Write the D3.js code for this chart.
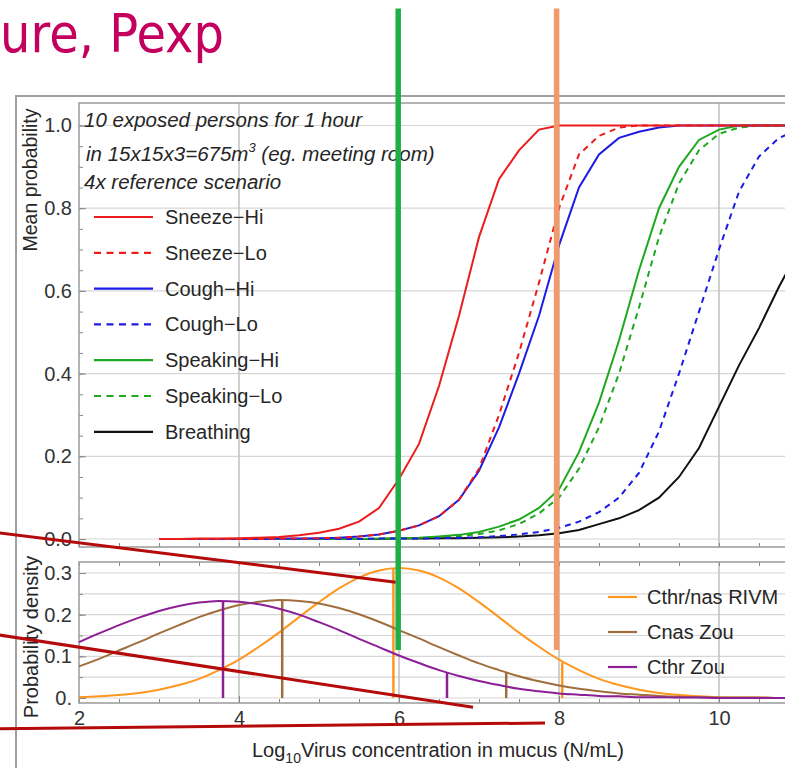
<!DOCTYPE html>
<html><head><meta charset="utf-8">
<script src="https://cdn.jsdelivr.net/npm/d3@7/dist/d3.min.js"></script>
<style>
body{margin:0;background:#fff}
svg{display:block}
text{font-family:"Liberation Sans",Arial,sans-serif;fill:#262626}
</style>
</head><body>
<svg id="c" width="785" height="768"></svg>
<script>
// ---------- DATA ----------
const probX = [3,3.25,3.5,3.75,4,4.25,4.5,4.75,5,5.25,5.5,5.75,6,6.25,6.5,6.75,7,7.25,7.5,7.75,8,8.25,8.5,8.75,9,9.25,9.5,9.75,10,10.25,10.5,10.75,11,11.25,11.5,11.75,12];
const sneezeHi  = [0,0,0.001,0.001,0.002,0.003,0.005,0.009,0.015,0.025,0.042,0.075,0.145,0.23,0.37,0.54,0.73,0.87,0.94,0.99,1,1,1,1,1,1,1,1,1,1,1,1,1,1,1,1,1];
const sneezeLo  = [0,0,0,0,0,0,0.001,0.001,0.002,0.003,0.006,0.011,0.02,0.033,0.055,0.095,0.17,0.30,0.45,0.62,0.80,0.93,0.975,0.995,1,1,1,1,1,1,1,1,1,1,1,1,1];
const coughHi   = [0,0,0,0,0,0,0.001,0.001,0.002,0.003,0.006,0.011,0.02,0.033,0.055,0.095,0.165,0.27,0.40,0.54,0.71,0.85,0.93,0.97,0.985,0.995,1,1,1,1,1,1,1,1,1,1,1];
const coughLo   = [0,0,0,0,0,0,0,0,0,0,0,0.001,0.001,0.001,0.002,0.003,0.004,0.007,0.011,0.017,0.027,0.042,0.065,0.10,0.16,0.26,0.40,0.55,0.70,0.84,0.925,0.97,0.99,0.997,1,1,1];
const speakHi   = [0,0,0,0,0,0,0,0,0,0,0,0.001,0.002,0.003,0.006,0.01,0.017,0.03,0.047,0.075,0.12,0.21,0.33,0.48,0.65,0.80,0.90,0.965,0.99,1,1,1,1,1,1,1,1];
const speakLo   = [0,0,0,0,0,0,0,0,0,0,0,0,0.001,0.002,0.004,0.007,0.012,0.021,0.036,0.062,0.10,0.17,0.27,0.40,0.56,0.73,0.86,0.94,0.98,0.995,1,1,1,1,1,1,1];
const breathing = [0,0,0,0,0,0,0,0,0,0,0,0,0.001,0.001,0.002,0.002,0.003,0.004,0.006,0.009,0.014,0.022,0.036,0.05,0.07,0.10,0.15,0.22,0.32,0.42,0.51,0.61,0.70,0.78,0.85,0.90,0.94];

const probNames  = ["Sneeze\u2212Hi","Sneeze\u2212Lo","Cough\u2212Hi","Cough\u2212Lo","Speaking\u2212Hi","Speaking\u2212Lo","Breathing"];
const probColors = ["#ec1c1c","#ec1c1c","#1c1ce6","#1c1ce6","#1fa81f","#1fa81f","#111111"];
const probDashed = [false,true,false,true,false,true,false];

const densX = [2,2.25,2.5,2.75,3,3.25,3.5,3.75,4,4.25,4.5,4.75,5,5.25,5.5,5.75,6,6.25,6.5,6.75,7,7.25,7.5,7.75,8,8.25,8.5,8.75,9,9.25,9.5,9.75,10,10.25,10.5,10.75,11,11.25,11.5,11.75,12];
const rivm   = [0.002,0.004,0.007,0.012,0.020,0.031,0.046,0.067,0.092,0.123,0.157,0.194,0.230,0.263,0.289,0.306,0.312,0.306,0.289,0.263,0.230,0.194,0.157,0.123,0.092,0.067,0.046,0.031,0.020,0.012,0.007,0.004,0.002,0.001,0.001,0,0,0,0,0,0];
const cnasZou= [0.076,0.094,0.114,0.134,0.155,0.175,0.194,0.210,0.223,0.231,0.235,0.233,0.227,0.216,0.201,0.183,0.163,0.143,0.122,0.102,0.083,0.067,0.052,0.040,0.030,0.022,0.016,0.011,0.008,0.005,0.003,0.002,0.001,0.001,0.001,0,0,0,0,0,0];
const cthrZou= [0.134,0.155,0.175,0.193,0.209,0.221,0.229,0.233,0.231,0.225,0.214,0.200,0.182,0.163,0.142,0.122,0.102,0.084,0.067,0.053,0.041,0.031,0.022,0.016,0.011,0.008,0.005,0.004,0.002,0.002,0.001,0.001,0,0,0,0,0,0,0,0,0];
const densNames  = ["Cthr/nas RIVM","Cnas Zou","Cthr Zou"];
const densColors = ["#ff961e","#a06e3c","#8c1e96"];
// quantile markers (x, height) per density series
const markX = [[5.93,8.04],[4.54,7.34],[3.8,6.6]];
const markH = [[0.31,0.085],[0.235,0.06],[0.233,0.062]];

const xTicks = [2,4,6,8,10];
const probTicks = [0,0.2,0.4,0.6,0.8,1.0];
const densTicks = [0,0.1,0.2,0.3];
const noteLines = ["10 exposed persons for 1 hour"," in 15x15x3=675m","4x reference scenario"];

// overlay annotations in data units (x, lower-density scale)
const greenBar  = {x:5.99, y0:1.655, y1:0.115};
const orangeBar = {x:7.97, y0:1.655, y1:0.115};
const redLines  = [[[1.01,0.396],[5.96,0.278]],[[1.01,0.151],[6.925,-0.022]],[[1.01,-0.074],[7.825,-0.060]]];

// ---------- CHART ----------
const svg = d3.select("#c");
svg.append("rect").attr("width",785).attr("height",768).attr("fill","#fff");

const x = d3.scaleLinear().domain([2,12]).range([79,879]);
const yP = d3.scaleLinear().domain([0,1]).range([539,125.5]);
const yD = d3.scaleLinear().domain([0,0.3]).range([698,573]);

// slide title
svg.append("text").attr("x",224).attr("y",0).attr("text-anchor","end")
  .attr("transform","translate(0,52) scale(1,1.1)")
  .style("font-family","'DejaVu Sans',Verdana,sans-serif").style("font-size","48px").style("fill","#c4005e")
  .text("ure, Pexp");

// outer frame
svg.append("path").attr("d","M16,768V96H785").attr("fill","none").attr("stroke","#a0a0a0").attr("stroke-width",2);

// ---------- upper plot ----------
const gP = svg.append("g");
gP.selectAll(".hg").data(probTicks).join("line")
  .attr("x1",79).attr("x2",879).attr("y1",d=>yP(d)).attr("y2",d=>yP(d))
  .attr("stroke","#d6d6d6").attr("stroke-width",1.2);
gP.selectAll(".vg").data(xTicks.slice(1)).join("line")
  .attr("x1",d=>x(d)).attr("x2",d=>x(d)).attr("y1",103).attr("y2",547)
  .attr("stroke","#c4c4c4").attr("stroke-width",1.6);

const axP = gP.append("g").attr("transform","translate(79,0)")
  .call(d3.axisLeft(yP).tickValues(probTicks).tickFormat(d3.format(".1f")).tickSize(-7).tickPadding(7));
const axPm = gP.append("g").attr("transform","translate(79,0)")
  .call(d3.axisLeft(yP).tickValues(d3.range(0,1.001,0.05)).tickFormat("").tickSize(-4));
const axPb = gP.append("g").attr("transform","translate(0,547)")
  .call(d3.axisBottom(x).tickValues(d3.range(2,12.01,0.5)).tickFormat("").tickSize(-4));
[axP,axPm,axPb].forEach(a=>{a.select(".domain").remove();a.selectAll("line").attr("stroke","#888");});
axP.selectAll("text").style("font-size","20px").style("fill","#333");
gP.append("rect").attr("x",79).attr("y",103).attr("width",800).attr("height",444)
  .attr("fill","none").attr("stroke","#9a9a9a").attr("stroke-width",1.5);

const probSeries = [sneezeHi,sneezeLo,coughHi,coughLo,speakHi,speakLo,breathing];
const lineP = d3.line().x((d,i)=>x(probX[i])).y(d=>yP(d));
[6,5,4,3,2,1,0].forEach(k=>{
  gP.append("path").datum(probSeries[k]).attr("d",lineP)
    .attr("fill","none").attr("stroke",probColors[k]).attr("stroke-width",2)
    .attr("stroke-dasharray",probDashed[k]?"6,5":null);
});

// note text
const note = gP.append("g").style("font-style","italic").style("font-size","20.5px");
note.append("text").attr("x",84).attr("y",127).text(noteLines[0]);
const t2 = note.append("text").attr("x",86).attr("y",161);
t2.append("tspan").text(noteLines[1]);
t2.append("tspan").attr("dy",-9).style("font-size","13px").text("3");
t2.append("tspan").attr("dy",9).text(" (eg. meeting room)");
note.append("text").attr("x",84).attr("y",189).text(noteLines[2]);

// legend upper
const legP = gP.append("g");
probNames.forEach((n,i)=>{
  const cy = 217 + i*35.8;
  legP.append("line").attr("x1",94).attr("x2",153).attr("y1",cy).attr("y2",cy)
    .attr("stroke",probColors[i]).attr("stroke-width",2.2)
    .attr("stroke-dasharray",probDashed[i]?"7,5.5":null);
  legP.append("text").attr("x",165).attr("y",cy+7).style("font-size","20px").text(n);
});

// ---------- lower plot ----------
const gD = svg.append("g");
gD.selectAll(".hg").data(d3.range(0,0.301,0.05)).join("line")
  .attr("x1",79).attr("x2",879).attr("y1",d=>yD(d)).attr("y2",d=>yD(d))
  .attr("stroke","#d6d6d6").attr("stroke-width",1.2);
gD.selectAll(".vg").data(xTicks.slice(1)).join("line")
  .attr("x1",d=>x(d)).attr("x2",d=>x(d)).attr("y1",562).attr("y2",703)
  .attr("stroke","#c4c4c4").attr("stroke-width",1.6);

const axD = gD.append("g").attr("transform","translate(79,0)")
  .call(d3.axisLeft(yD).tickValues(densTicks).tickFormat(d=>d===0?"0.":d3.format(".1f")(d)).tickSize(-7).tickPadding(7));
const axDm = gD.append("g").attr("transform","translate(79,0)")
  .call(d3.axisLeft(yD).tickValues(d3.range(0,0.301,0.05)).tickFormat("").tickSize(-4));
const axX = gD.append("g").attr("transform","translate(0,703)")
  .call(d3.axisBottom(x).tickValues(xTicks).tickSize(-7).tickPadding(8));
const axXm = gD.append("g").attr("transform","translate(0,703)")
  .call(d3.axisBottom(x).tickValues(d3.range(2,12.01,0.5)).tickFormat("").tickSize(-4));
const axXt = gD.append("g").attr("transform","translate(0,562)")
  .call(d3.axisTop(x).tickValues(d3.range(2,12.01,0.5)).tickFormat("").tickSize(-4));
[axD,axDm,axX,axXm,axXt].forEach(a=>{a.select(".domain").remove();a.selectAll("line").attr("stroke","#888");});
axD.selectAll("text").style("font-size","20px").style("fill","#333");
axX.selectAll("text").style("font-size","20px").style("fill","#333");
gD.append("rect").attr("x",79).attr("y",562).attr("width",800).attr("height",141)
  .attr("fill","none").attr("stroke","#9a9a9a").attr("stroke-width",1.5);

const densSeries = [rivm,cnasZou,cthrZou];
const lineD = d3.line().x((d,i)=>x(densX[i])).y(d=>yD(d)).curve(d3.curveMonotoneX);
densSeries.forEach((s,k)=>{
  gD.append("path").datum(s).attr("d",lineD)
    .attr("fill","none").attr("stroke",densColors[k]).attr("stroke-width",2);
  markX[k].forEach((mx,j)=>{
    gD.append("line").attr("x1",x(mx)).attr("x2",x(mx)).attr("y1",yD(0)).attr("y2",yD(markH[k][j]))
      .attr("stroke",densColors[k]).attr("stroke-width",2.5);
  });
});

// legend lower
densNames.forEach((n,i)=>{
  const cy = 597 + i*35;
  gD.append("line").attr("x1",608).attr("x2",637).attr("y1",cy).attr("y2",cy)
    .attr("stroke",densColors[i]).attr("stroke-width",2.2);
  gD.append("text").attr("x",647).attr("y",cy+7).style("font-size","20px").text(n);
});

// axis titles
svg.append("text").attr("transform","translate(37,180) rotate(-90)").attr("text-anchor","middle")
  .style("font-size","19.5px").text("Mean probability");
svg.append("text").attr("transform","translate(38,637) rotate(-90)").attr("text-anchor","middle")
  .style("font-size","20px").text("Probability density");
const xt = svg.append("text").attr("x",438).attr("y",757).attr("text-anchor","middle").style("font-size","20px");
xt.append("tspan").text("Log");
xt.append("tspan").attr("dy",6).style("font-size","14px").text("10");
xt.append("tspan").attr("dy",-6).text("Virus concentration in mucus (N/mL)");

// ---------- overlay annotations ----------
const ov = svg.append("g");
redLines.forEach(seg=>{
  ov.append("line").attr("x1",x(seg[0][0])).attr("y1",yD(seg[0][1]))
    .attr("x2",x(seg[1][0])).attr("y2",yD(seg[1][1]))
    .attr("stroke","#b40a0a").attr("stroke-width",3);
});
[[greenBar,"#1eaf46"],[orangeBar,"#f29a6c"]].forEach(([b,c])=>{
  ov.append("line").attr("x1",x(b.x)).attr("x2",x(b.x)).attr("y1",yD(b.y0)).attr("y2",yD(b.y1))
    .attr("stroke",c).attr("stroke-width",5.5);
});
</script>
</body></html>
